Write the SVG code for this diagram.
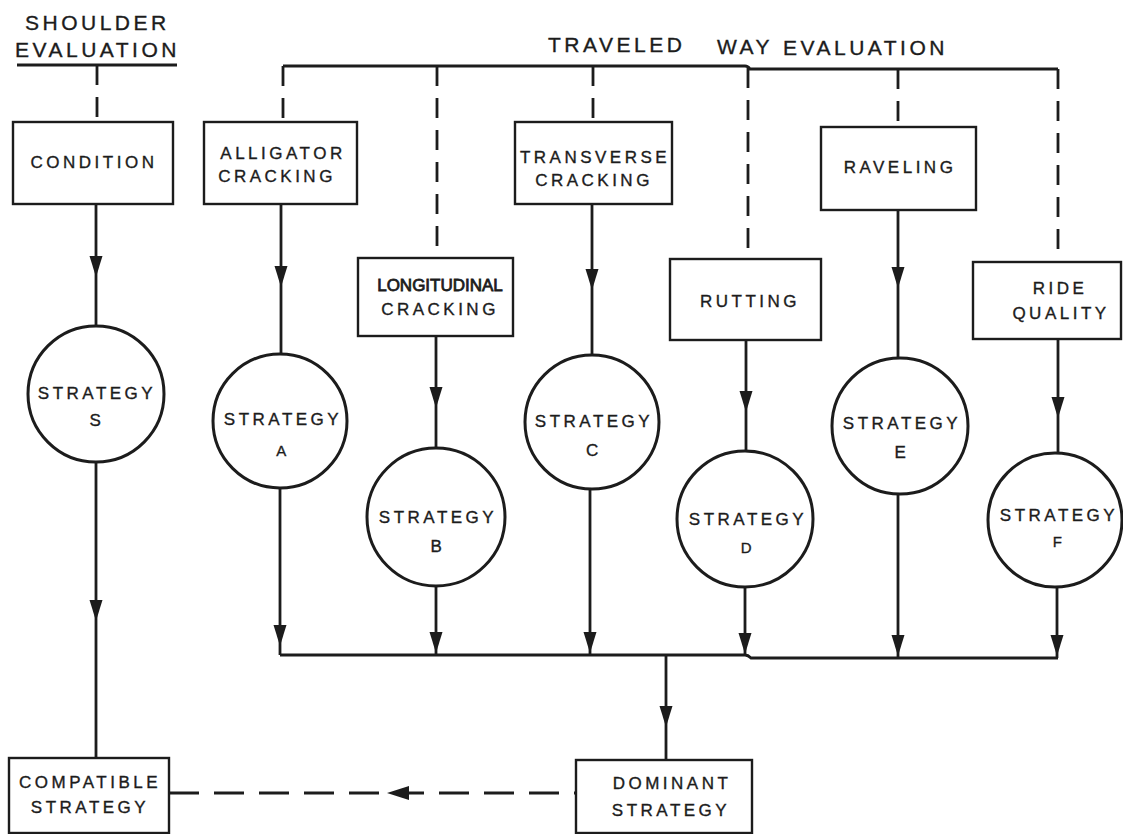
<svg xmlns="http://www.w3.org/2000/svg" xmlns:xlink="http://www.w3.org/1999/xlink" width="1123" height="834" viewBox="0 0 1123 834">
  <style>
    .box { fill: #fff; stroke: #1c1c1c; stroke-width: 2.4; }
    .circ { fill: #fff; stroke: #1c1c1c; stroke-width: 3; }
    .ln { fill: none; stroke: #1c1c1c; stroke-width: 2.8; }
    .dash { fill: none; stroke: #1c1c1c; stroke-width: 2.8; stroke-dasharray: 20 12; }
    .hdash { fill: none; stroke: #1c1c1c; stroke-width: 3; stroke-dasharray: 30 15; }
    .ah { fill: #1c1c1c; }
    text { font-family: "Liberation Sans", Arial, sans-serif; fill: #1c1c1c; stroke: #1c1c1c; stroke-width: 0.35; }
    .lbl { font-size: 17px; letter-spacing: 3.5px; text-anchor: middle; }
    .lbl2 { font-size: 17px; text-anchor: middle; stroke-width: 0.8; }
    .head { font-size: 21px; letter-spacing: 3.5px; }
  </style>
  <defs>
    <!-- downward arrowhead, tip at origin -->
    <path id="ahd" class="ah" d="M-6.5,-21 L6.5,-21 L0,0 Z"/>
  </defs>
  <rect width="1123" height="834" fill="#fff"/>

  <!-- headings -->
  <g id="shoulder-heading">
    <text class="head" x="25" y="30">SHOULDER</text>
    <text class="head" x="15" y="57">EVALUATION</text>
    <line class="ln" x1="17" y1="65" x2="177" y2="65"/>
  </g>
  <g id="traveled-heading">
    <text class="head" x="548" y="52">TRAVELED</text>
    <text class="head" x="717" y="54">WAY</text>
    <text class="head" x="783" y="55">EVALUATION</text>
  </g>

  <!-- connectors -->
  <g id="connectors">
    <!-- top distribution bar -->
    <path class="ln" d="M283,66 L745,66 Q748,66 750,69 L1058,69"/>
    <!-- dashed feeds into the evaluation boxes -->
    <line class="dash" x1="97" y1="65" x2="97" y2="122"/>
    <line class="dash" x1="283" y1="66" x2="283" y2="122"/>
    <line class="dash" x1="437" y1="66" x2="437" y2="258"/>
    <line class="dash" x1="593" y1="66" x2="593" y2="122"/>
    <line class="dash" x1="748" y1="68" x2="748" y2="259"/>
    <line class="dash" x1="898" y1="69" x2="898" y2="127"/>
    <line class="dash" x1="1058" y1="69" x2="1058" y2="262"/>

    <!-- box to strategy -->
    <line class="ln" x1="96" y1="204" x2="96" y2="326"/>
    <line class="ln" x1="281" y1="204" x2="281" y2="354"/>
    <line class="ln" x1="436" y1="336" x2="436" y2="448"/>
    <line class="ln" x1="592" y1="204" x2="592" y2="355"/>
    <line class="ln" x1="746" y1="340" x2="746" y2="451"/>
    <line class="ln" x1="898" y1="210" x2="898" y2="358"/>
    <line class="ln" x1="1058" y1="339" x2="1058" y2="452"/>
    <use xlink:href="#ahd" x="96" y="277"/>
    <use xlink:href="#ahd" x="281" y="287"/>
    <use xlink:href="#ahd" x="436" y="408"/>
    <use xlink:href="#ahd" x="592" y="290"/>
    <use xlink:href="#ahd" x="746" y="412"/>
    <use xlink:href="#ahd" x="898" y="288"/>
    <use xlink:href="#ahd" x="1058" y="418"/>

    <!-- strategy to bottom collector -->
    <line class="ln" x1="96" y1="462" x2="96" y2="758"/>
    <use xlink:href="#ahd" x="96" y="621"/>
    <line class="ln" x1="280" y1="488" x2="280" y2="655"/>
    <line class="ln" x1="436" y1="586" x2="436" y2="655"/>
    <line class="ln" x1="590" y1="489" x2="590" y2="655"/>
    <line class="ln" x1="745" y1="587" x2="745" y2="656"/>
    <line class="ln" x1="898" y1="494" x2="898" y2="658"/>
    <line class="ln" x1="1057" y1="588" x2="1057" y2="658"/>
    <use xlink:href="#ahd" x="280" y="646"/>
    <use xlink:href="#ahd" x="436" y="653"/>
    <use xlink:href="#ahd" x="590" y="653"/>
    <use xlink:href="#ahd" x="745" y="654"/>
    <use xlink:href="#ahd" x="898" y="656"/>
    <use xlink:href="#ahd" x="1057" y="656"/>

    <!-- bottom collector bar -->
    <path class="ln" d="M280,655 L745,655 Q748,655 751,658 L1058,658"/>

    <!-- collector to dominant strategy -->
    <line class="ln" x1="666" y1="655" x2="666" y2="760"/>
    <use xlink:href="#ahd" x="666" y="727"/>

    <!-- dominant back to compatible -->
    <line class="hdash" x1="169" y1="793" x2="576" y2="793"/>
    <path class="ah" d="M387,793 L409,786 L409,800 Z"/>
  </g>

  <!-- shoulder branch -->
  <g id="condition">
    <rect class="box" x="13" y="122" width="160" height="82"/>
    <text class="lbl" x="94" y="168">CONDITION</text>
  </g>
  <g id="strategy-s">
    <circle class="circ" cx="96" cy="394" r="68"/>
    <text class="lbl" x="97" y="399">STRATEGY</text>
    <text class="lbl" x="97" y="426">S</text>
  </g>

  <!-- traveled way branches -->
  <g id="alligator-cracking">
    <rect class="box" x="204" y="122" width="153" height="82"/>
    <text class="lbl" x="283" y="159">ALLIGATOR</text>
    <text class="lbl" x="277" y="182">CRACKING</text>
  </g>
  <g id="strategy-a">
    <circle class="circ" cx="280" cy="421" r="67"/>
    <text class="lbl" x="283" y="425">STRATEGY</text>
    <text class="lbl" x="283" y="456" style="font-size:15px">A</text>
  </g>

  <g id="longitudinal-cracking">
    <rect class="box" x="358" y="258" width="155" height="78"/>
    <text class="lbl2" x="440" y="291">LONGITUDINAL</text>
    <text class="lbl" x="440" y="315">CRACKING</text>
  </g>
  <g id="strategy-b">
    <circle class="circ" cx="436" cy="517" r="69"/>
    <text class="lbl" x="438" y="523">STRATEGY</text>
    <text class="lbl" x="438" y="552">B</text>
  </g>

  <g id="transverse-cracking">
    <rect class="box" x="515" y="122" width="157" height="82"/>
    <text class="lbl" x="595" y="163">TRANSVERSE</text>
    <text class="lbl" x="594" y="186">CRACKING</text>
  </g>
  <g id="strategy-c">
    <circle class="circ" cx="592" cy="422" r="67"/>
    <text class="lbl" x="594" y="427">STRATEGY</text>
    <text class="lbl" x="594" y="456">C</text>
  </g>

  <g id="rutting">
    <rect class="box" x="670" y="259" width="151" height="81"/>
    <text class="lbl" x="750" y="307">RUTTING</text>
  </g>
  <g id="strategy-d">
    <circle class="circ" cx="745" cy="519" r="68"/>
    <text class="lbl" x="748" y="525">STRATEGY</text>
    <text class="lbl" x="748" y="553" style="font-size:15px">D</text>
  </g>

  <g id="raveling">
    <rect class="box" x="821" y="127" width="155" height="83"/>
    <text class="lbl" x="900" y="173">RAVELING</text>
  </g>
  <g id="strategy-e">
    <circle class="circ" cx="900" cy="426" r="68"/>
    <text class="lbl" x="902" y="429">STRATEGY</text>
    <text class="lbl" x="902" y="458">E</text>
  </g>

  <g id="ride-quality">
    <rect class="box" x="973" y="262" width="148" height="77"/>
    <text class="lbl" x="1060" y="294">RIDE</text>
    <text class="lbl" x="1061" y="319">QUALITY</text>
  </g>
  <g id="strategy-f">
    <circle class="circ" cx="1055" cy="520" r="67"/>
    <text class="lbl" x="1059" y="521">STRATEGY</text>
    <text class="lbl" x="1059" y="547" style="font-size:15px">F</text>
  </g>

  <!-- outcomes -->
  <g id="dominant-strategy">
    <rect class="box" x="576" y="760" width="176" height="73"/>
    <text class="lbl" x="672" y="789">DOMINANT</text>
    <text class="lbl" x="671" y="816">STRATEGY</text>
  </g>
  <g id="compatible-strategy">
    <rect class="box" x="9" y="758" width="160" height="75"/>
    <text class="lbl" x="90" y="788">COMPATIBLE</text>
    <text class="lbl" x="90" y="813">STRATEGY</text>
  </g>
</svg>
